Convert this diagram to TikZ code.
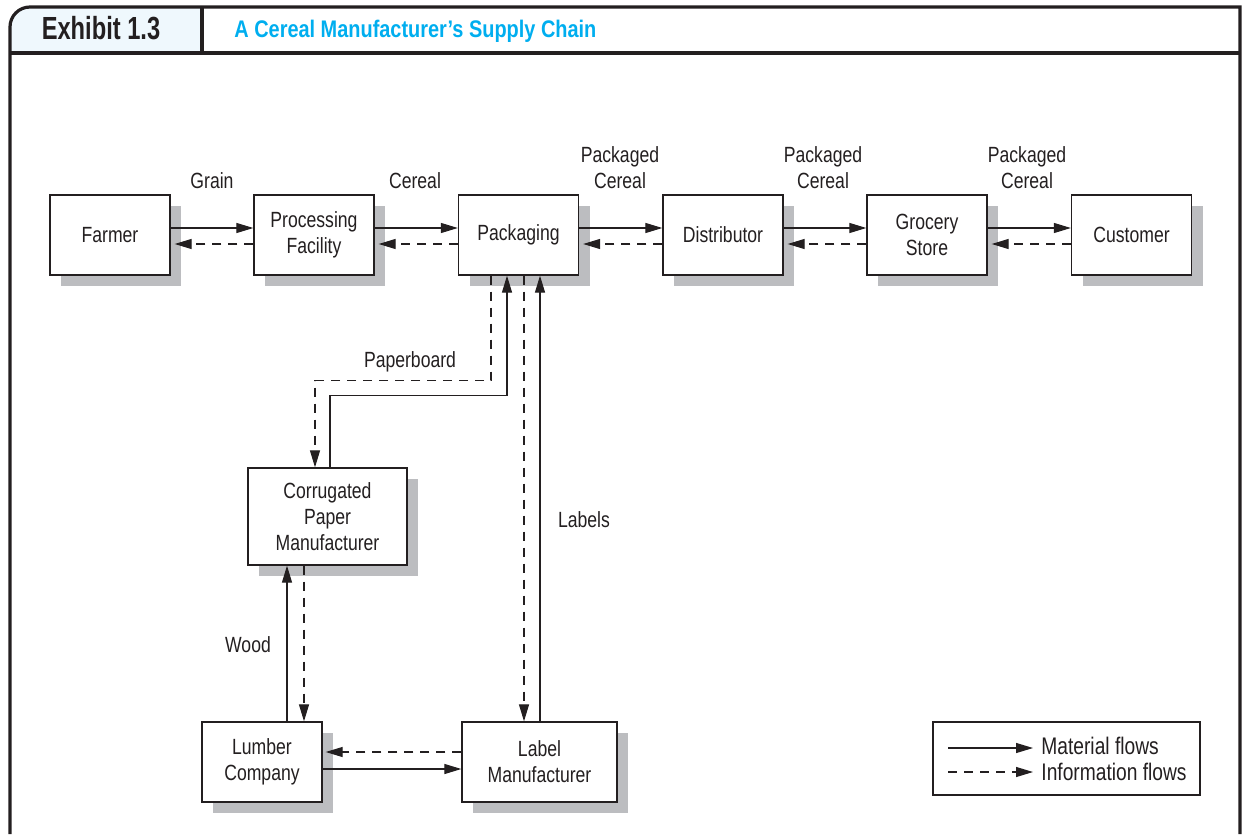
\documentclass[tikz,border=0pt]{standalone}
\usepackage{fontspec}
\setmainfont{Liberation Sans}[FakeStretch=0.8]
\newfontfamily\headfont{Liberation Sans}[FakeStretch=0.74]
\newfontfamily\titlefont{Liberation Sans}[FakeStretch=0.83]
\usetikzlibrary{arrows.meta,calc,shadows}
\definecolor{inkdark}{HTML}{231F20}
\definecolor{shadowgray}{HTML}{BCBDC0}
\definecolor{headblue}{HTML}{EFF8FD}
\definecolor{titlecyan}{HTML}{00AEEF}
\tikzset{
  stage/.style={draw=inkdark, line width=0.65pt, fill=white,
    minimum width=60pt, minimum height=40pt, inner sep=2pt, align=center,
    font=\fontsize{11}{13}\selectfont, text=inkdark,
    drop shadow={shadow xshift=5.5pt, shadow yshift=-5.5pt,
                 fill=shadowgray, opacity=1}},
  matflow/.style={-{Triangle[length=8.5pt,width=5pt]}, inkdark, line width=0.6pt},
  infoflow/.style={matflow, dash pattern=on 4.5pt off 3.5pt},
  flowlabel/.style={align=center, font=\fontsize{11}{13}\selectfont,
    text=inkdark, inner sep=0pt},
  frameline/.style={inkdark, line width=1.6pt},
}

\begin{document}
\begin{tikzpicture}[x=0.5pt, y=-0.5pt]
    \useasboundingbox (0,0) rectangle (1245,834);
    % frame and header
    \fill[headblue] (10,53) -- (10,27) arc[start angle=180, end angle=270, radius=20]
      -- (202,7) -- (202,53) -- cycle;
    \draw[frameline] (10,834) -- (10,27) arc[start angle=180, end angle=270, radius=20]
      -- (1240,7) -- (1240,834);
    \draw[frameline] (10,53) -- (1240,53);
    \draw[frameline] (202,7) -- (202,53);
    \node[anchor=base, text=inkdark, inner sep=0pt,
      font=\headfont\bfseries\fontsize{16}{19}\selectfont] (exhibit) at (101,39.5)
      {Exhibit 1.3};
    \node[anchor=base west, text=titlecyan, inner sep=0pt,
      font=\titlefont\bfseries\fontsize{12}{14}\selectfont] (title) at (234,38)
      {A Cereal Manufacturer’s Supply Chain};
    % main chain
    \node[stage] (farmer)   at (110,235)    {Farmer};
    \node[stage] (process)  at (314,235)    {Processing\\Facility};
    \node[stage] (pack)     at (518.5,235)  {Packaging};
    \node[stage] (dist)     at (723,235)    {Distributor};
    \node[stage] (grocery)  at (927,235)    {Grocery\\Store};
    \node[stage] (customer) at (1131.5,235) {Customer};
    % suppliers
    \node[stage, minimum width=79.5pt, minimum height=48.5pt] (corr)
      at (327.5,516.5) {Corrugated\\Paper\\Manufacturer};
    \node[stage] (lumber) at (262,762) {Lumber\\Company};
    \node[stage, minimum width=77.5pt] (labelm) at (539.5,762) {Label\\Manufacturer};
    % flows along the chain
    \foreach \a/\b in {farmer/process,process/pack,pack/dist,dist/grocery,grocery/customer}{
      \draw[matflow] ($(\a.east)+(0,-7)$) -- ($(\b.west)+(0,-7)$);
      \draw[infoflow] ($(\b.west)+(0,9)$) -- ($(\a.east)+(4,9)$);
    }
    \node[flowlabel] (grain)  at (212,181) {Grain};
    \node[flowlabel] (cereal) at (415,181) {Cereal};
    \node[flowlabel] (pc1) at (620,168)  {Packaged\\Cereal};
    \node[flowlabel] (pc2) at (823,168)  {Packaged\\Cereal};
    \node[flowlabel] (pc3) at (1027,168) {Packaged\\Cereal};
    % paperboard
    \draw[infoflow] ($(pack.south)+(-27.5,0)$) -- ++(0,105) -| ($(corr.north)+(-12.5,0)$);
    \draw[matflow] ($(corr.north)+(2.5,0)$) -- ++(0,-72) -| ($(pack.south)+(-11.5,0)$);
    \node[flowlabel] (paperboard) at (410,362) {Paperboard};
    % labels
    \draw[infoflow] ($(pack.south)+(5.5,0)$) -- ($(labelm.north)+(-15.5,0)$);
    \draw[matflow] ($(labelm.north)+(0.5,0)$) -- ($(pack.south)+(21.5,0)$);
    \node[flowlabel] (labels) at (584,520) {Labels};
    % wood
    \draw[matflow] ($(lumber.north)+(25,0)$) -- ($(corr.south)+(-40.5,0)$);
    \draw[infoflow] ($(corr.south)+(-23.5,0)$) -- ($(lumber.north)+(42,0)$);
    \node[flowlabel] (wood) at (248,645) {Wood};
    % lumber <-> label manufacturer
    \draw[infoflow] ($(labelm.west)+(0,-10)$) -- ($(lumber.east)+(3,-10)$);
    \draw[matflow] ($(lumber.east)+(0,7)$) -- ($(labelm.west)+(0,7)$);
    % legend
    \node[draw=inkdark, line width=0.65pt, minimum width=133.5pt,
      minimum height=36.5pt, inner sep=0pt] (legend) at (1066.5,758.5) {};
    \node[flowlabel, anchor=west, font=\fontsize{12}{14}\selectfont] (lmat)
      at (1041,746) {Material flows};
    \node[flowlabel, anchor=west, font=\fontsize{12}{14}\selectfont] (linfo)
      at (1041,772) {Information flows};
    \coordinate (lmatstart)  at (948,748);
    \coordinate (lmatend)    at (1033,748);
    \coordinate (linfostart) at (948,772);
    \coordinate (linfoend)   at (1033,772);
    \draw[matflow] (lmatstart) -- (lmatend);
    \draw[infoflow] (linfostart) -- (linfoend);
  \end{tikzpicture}
\end{document}
